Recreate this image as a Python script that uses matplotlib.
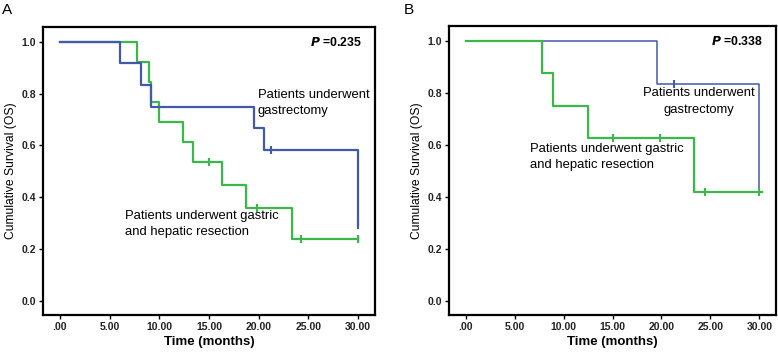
import matplotlib
matplotlib.use("Agg")
import matplotlib.pyplot as plt

plt.rcParams['font.family'] = ['Liberation Sans', 'DejaVu Sans']

# ---- data ----
xticks = [0, 5, 10, 15, 20, 25, 30]
xticklabels = ['.00', '5.00', '10.00', '15.00', '20.00', '25.00', '30.00']
yticks = [0.0, 0.2, 0.4, 0.6, 0.8, 1.0]
yticklabels = ['0.0', '0.2', '0.4', '0.6', '0.8', '1.0']

# Panel A
a_gas_t = [0, 6.0, 8.2, 9.2, 19.5, 20.5, 30.0]
a_gas_s = [1.0, 0.917, 0.833, 0.75, 0.667, 0.583, 0.292]
a_gas_ct = [21.2, 30.0]
a_gas_cs = [0.583, 0.292]

a_hep_t = [0, 7.8, 9.0, 9.2, 10.0, 12.4, 13.4, 16.3, 18.7, 23.3, 30.0]
a_hep_s = [1.0, 0.923, 0.846, 0.769, 0.692, 0.615, 0.538, 0.449, 0.359, 0.239, 0.239]
a_hep_ct = [15.0, 19.8, 24.3, 30.0]
a_hep_cs = [0.538, 0.359, 0.239, 0.239]

# Panel B
b_gas_t = [0, 19.5, 30.0]
b_gas_s = [1.0, 0.833, 0.417]
b_gas_ct = [21.3]
b_gas_cs = [0.833]

b_hep_t = [0, 7.85, 8.95, 12.45, 23.3, 30.3]
b_hep_s = [1.0, 0.875, 0.75, 0.625, 0.417, 0.417]
b_hep_ct = [15.0, 19.9, 24.4, 30.0]
b_hep_cs = [0.625, 0.625, 0.417, 0.417]

p_values = ['0.235', '0.338']
panel_letters = ['A', 'B']

BLUE = '#4258a8'
GREEN = '#3cb84a'

fig = plt.figure(figsize=(7.78, 3.52), dpi=100)
axA = fig.add_axes([43/778, 37/352, 332/778, 288/352])
axB = fig.add_axes([449/778, 37/352, 327/778, 289/352])


def style(ax):
    ax.set_xlim(-1.7, 31.7)
    ax.set_ylim(-0.054, 1.057)
    ax.set_xticks(xticks)
    ax.set_xticklabels(xticklabels, fontsize=7.5, fontweight='bold', color='#222222')
    ax.set_yticks(yticks)
    ax.set_yticklabels(yticklabels, fontsize=7.5, fontweight='bold', color='#222222')
    ax.tick_params(axis='both', length=3, width=1, direction='out', pad=2)
    for s in ax.spines.values():
        s.set_linewidth(1.6)
        s.set_color('black')
    ax.set_xlabel('Time (months)', fontsize=9.5, fontweight='bold', labelpad=3)
    ax.set_ylabel('Cumulative Survival (OS)', fontsize=8.7, labelpad=3)


def km(ax, t, s, ct, cs, color, lw):
    ax.step(t, s, where='post', color=color, lw=lw, zorder=3)
    ax.plot(ct, cs, linestyle='none', marker='|', markersize=6, mew=1.5, color=color, zorder=4)


km(axA, a_hep_t, a_hep_s, a_hep_ct, a_hep_cs, GREEN, 1.6)
km(axA, a_gas_t, a_gas_s, a_gas_ct, a_gas_cs, BLUE, 1.6)
km(axB, b_gas_t, b_gas_s, b_gas_ct, b_gas_cs, BLUE, 1.1)
km(axB, b_hep_t, b_hep_s, b_hep_ct, b_hep_cs, GREEN, 1.6)

for ax in (axA, axB):
    style(ax)

fs = 9.4
axA.text(19.9, 0.795, 'Patients underwent', fontsize=fs, ha='left', va='center')
axA.text(19.9, 0.733, 'gastrectomy', fontsize=fs, ha='left', va='center')
axA.text(6.55, 0.329, 'Patients underwent gastric', fontsize=fs, ha='left', va='center')
axA.text(6.55, 0.265, 'and hepatic resection', fontsize=fs, ha='left', va='center')

axB.text(23.85, 0.799, 'Patients underwent', fontsize=fs, ha='center', va='center')
axB.text(23.85, 0.735, 'gastrectomy', fontsize=fs, ha='center', va='center')
axB.text(6.55, 0.583, 'Patients underwent gastric', fontsize=fs, ha='left', va='center')
axB.text(6.55, 0.522, 'and hepatic resection', fontsize=fs, ha='left', va='center')

for ax, p in zip((axA, axB), p_values):
    ax.text(0.96, 0.945, r'$\bfit{P}$' + ' =' + p, transform=ax.transAxes,
            fontsize=8.8, fontweight='bold', ha='right', va='center')

fig.text(2/778, 1 - 10/352, panel_letters[0], fontsize=11, ha='left', va='center')
fig.text(404/778, 1 - 10/352, panel_letters[1], fontsize=11, ha='left', va='center')

fig.savefig('out.png', dpi=100)
